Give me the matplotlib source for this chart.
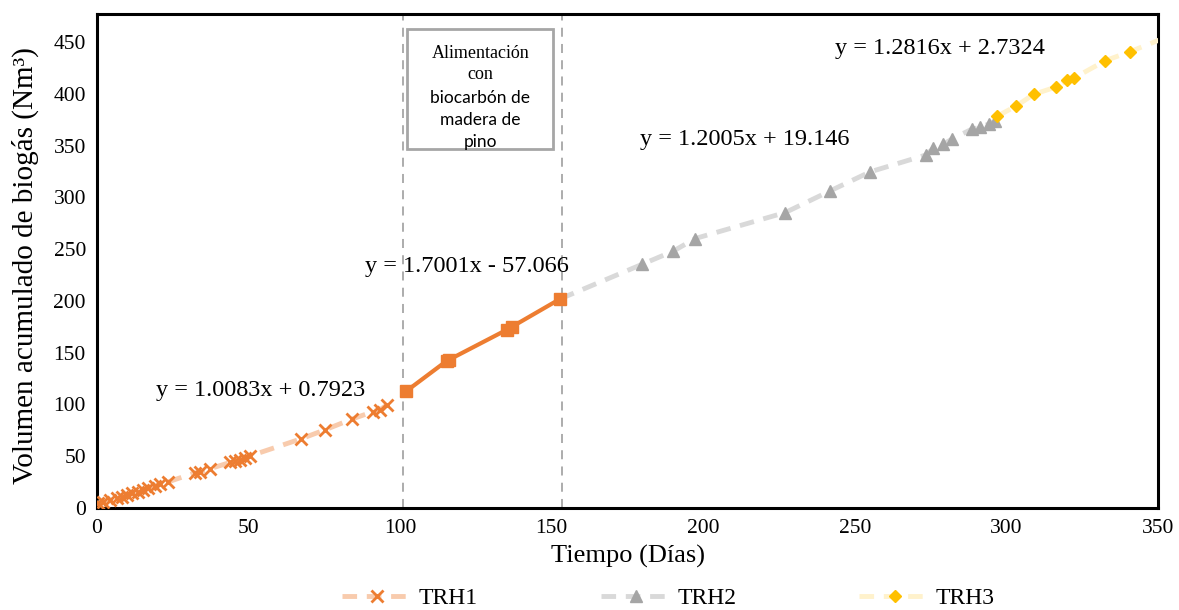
import matplotlib
matplotlib.use('Agg')
import matplotlib.pyplot as plt
from matplotlib.patches import Rectangle

plt.rcParams['font.family'] = ['Liberation Serif', 'DejaVu Serif']

# Datos
trh1_x = [0.3, 2.0, 4.3, 6.6, 8.3, 9.9, 11.6, 13.5, 15.2, 16.8, 19.1, 20.8, 23.4,
          32.3, 34.0, 37.3, 43.9, 45.5, 47.2, 48.8, 50.5,
          67.3, 75.2, 84.2, 91.0, 93.4, 95.7]
trh1_y = [4.8, 5.8, 7.7, 9.7, 10.6, 12.6, 14.5, 15.5, 17.4, 19.4, 21.3, 23.2, 25.2,
          34.0, 35.0, 38.0, 44.0, 45.0, 46.5, 48.4, 50.3,
          66.8, 75.5, 86.0, 93.0, 95.0, 99.7]

bio_x = [101.9, 115.4, 116.0, 135.2, 136.8, 152.8]
bio_y = [112.6, 142.2, 143.0, 172.2, 174.9, 202.0]

trh2_x = [152.8, 179.7, 190.1, 197.3, 227.0, 241.8, 255.0, 273.3, 275.9, 279.2, 282.0,
          288.6, 291.3, 294.1, 296.3]
trh2_y = [202.0, 235.2, 248.1, 260.2, 285.3, 306.2, 324.6, 340.8, 347.3, 351.4, 356.3,
          365.9, 367.5, 370.8, 374.0]
trh2_marker_desde = 1  # el primer punto no lleva marcador

trh3_x = [297.0, 303.2, 308.9, 316.4, 320.0, 322.3, 332.6, 340.6, 356.0]
trh3_y = [378.5, 388.2, 399.4, 406.6, 413.0, 415.3, 432.0, 440.5, 458.5]

lineas_corte = [101.0, 153.4]

ecuaciones = [
    (54.1, 113.6, 'y = 1.0083x + 0.7923'),
    (122.0, 233.0, 'y = 1.7001x - 57.066'),
    (213.8, 356.0, 'y = 1.2005x + 19.146'),
    (278.1, 443.4, 'y = 1.2816x + 2.7324'),
]

fig = plt.figure(figsize=(11.79, 6.10), dpi=100)
ax = fig.add_axes([0.0823, 0.1672, 0.9, 0.8098])

# Lineas verticales de las etapas
for xv in lineas_corte:
    ax.axvline(xv, color='#A6A6A6', linestyle=(0, (5, 4)), linewidth=1.3, zorder=1)

ax.plot(trh1_x, trh1_y, color='#F8CBAD', linestyle=(0, (3, 2)), linewidth=3.5,
        marker='x', markersize=8, markeredgewidth=2, markeredgecolor='#ED7D31',
        label='TRH1', zorder=3)
ax.plot(trh2_x, trh2_y, color='#D9D9D9', linestyle=(0, (3, 2)), linewidth=3.5,
        marker='^', markersize=8.5, markerfacecolor='#A5A5A5', markeredgecolor='#A5A5A5',
        markevery=list(range(trh2_marker_desde, len(trh2_x))), label='TRH2', zorder=3)
ax.plot(trh3_x, trh3_y, color='#FFF2CC', linestyle=(0, (3, 2)), linewidth=3.5,
        marker='D', markersize=6.5, markerfacecolor='#FFC000', markeredgecolor='#FFC000',
        label='TRH3', zorder=3)
ax.plot(bio_x, bio_y, color='#ED7D31', linewidth=3, marker='s', markersize=8.5,
        zorder=4)

for ex, ey, txt in ecuaciones:
    ax.text(ex, ey, txt, ha='center', va='center', fontsize=17.5, zorder=5)

# Cuadro de texto
ax.add_patch(Rectangle((102.3, 346.6), 48.1, 116.1, fill=True, facecolor='white',
                       edgecolor='#A6A6A6', linewidth=2, zorder=5))
cx = 126.4
ax.text(cx, 439.0, 'Alimentación', ha='center', va='center', fontsize=13, zorder=6)
ax.text(cx, 418.5, 'con', ha='center', va='center', fontsize=13, zorder=6)
for yy, txt in [(396.0, 'biocarbón de'), (375.0, 'madera de'), (353.5, 'pino')]:
    ax.text(cx, yy, txt, ha='center', va='center', fontsize=12.5,
            family=['Lato', 'DejaVu Sans'], zorder=6)

ax.set_xlim(0, 350)
ax.set_ylim(0, 477)
ax.set_xticks(range(0, 351, 50))
ax.set_yticks(range(0, 451, 50))
ax.tick_params(length=0, labelsize=15.5, pad=8)
for s in ax.spines.values():
    s.set_linewidth(2.2)
    s.set_color('black')

ax.set_xlabel('Tiempo (Días)', fontsize=19, labelpad=5)
ax.set_ylabel('Volumen acumulado de biogás (Nm³)', fontsize=21)
ax.yaxis.set_label_coords(-0.055, 0.49)

fig.legend(loc='center', bbox_to_anchor=(0.567, 0.019), ncol=3, frameon=False,
           fontsize=17, columnspacing=5.2, handlelength=3.0, handletextpad=0.25)

plt.savefig('out.png', dpi=100)
